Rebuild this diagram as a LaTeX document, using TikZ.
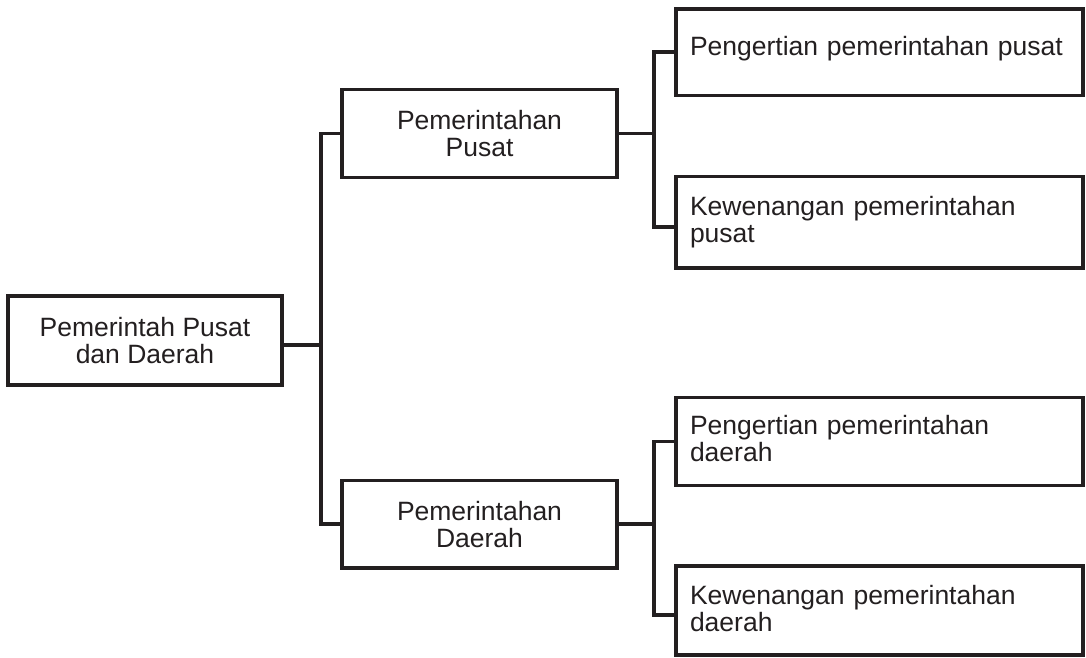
\documentclass[tikz,border=0pt]{standalone}
\usepackage{fontspec}
\setmainfont{Liberation Sans}
\definecolor{ink}{RGB}{35,31,32}
\tikzset{
  box/.style={draw=ink, line width=3.6pt, rectangle, outer sep=0pt, text=ink,
    font=\fontsize{26.5}{27}\selectfont},
  cbox/.style={box, align=center, inner sep=0pt},
  rbox/.style={box, align=left, text width=379pt, inner xsep=14pt, inner ysep=0pt,
    minimum width=407pt, text height=20pt, text depth=33pt},
  conn/.style={draw=ink, line width=3.6pt}
}
\begin{document}
\begin{tikzpicture}[x=1pt,y=-1pt]
\useasboundingbox (0,0) rectangle (1086,658);
\node[cbox, minimum width=274pt, minimum height=89pt] (root) at (145,340.5) {Pemerintah Pusat\\dan Daerah};
\node[cbox, minimum width=275pt, minimum height=88pt] (mid1) at (479.5,133.5) {Pemerintahan\\Pusat};
\node[cbox, minimum width=275pt, minimum height=87.5pt] (mid2) at (479.5,524.25) {Pemerintahan\\Daerah};
\node[rbox, minimum height=86.5pt, text height=23pt, text depth=17pt] (r1) at (879.5,52.25) {Pengertian pemerintahan pusat};
\node[rbox, minimum height=91.5pt] (r2) at (879.5,222.25) {Kewenangan pemerintahan\\pusat};
\node[rbox, minimum height=88pt] (r3) at (879.5,441.3) {Pengertian pemerintahan\\daerah};
\node[rbox, minimum height=89pt] (r4) at (879.5,610.5) {Kewenangan pemerintahan\\daerah};
\draw[conn] ([yshift=-4.5pt]root.east) -- ++(39,0);
\draw[conn] (mid1.west) -- ++(-21,0) |- (mid2.west);
\draw[conn] (mid1.east) -- ++(37,0);
\draw[conn] (r1.west) -- ++(-22,0) |- ([yshift=-4.75pt]r2.west);
\draw[conn] (mid2.east) -- ++(37,0);
\draw[conn] (r3.west) -- ++(-22,0) |- ([yshift=-4.5pt]r4.west);
\end{tikzpicture}
\end{document}
